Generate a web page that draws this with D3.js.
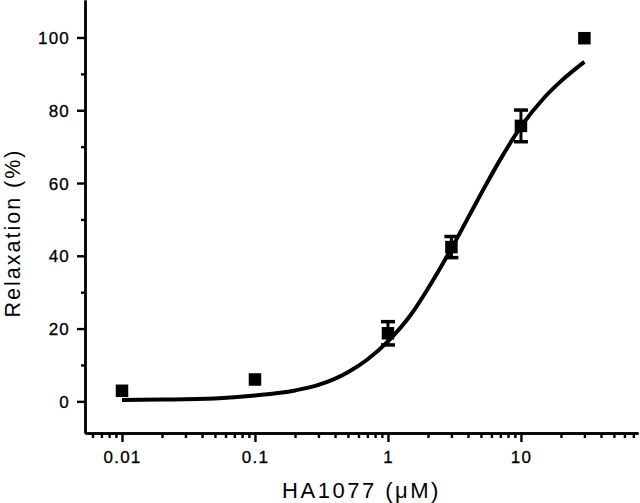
<!DOCTYPE html>
<html>
<head>
<meta charset="utf-8">
<script src="https://cdn.jsdelivr.net/npm/d3@7"></script>
<style>
  html, body { margin: 0; padding: 0; background: #ffffff; }
  svg { display: block; }
  text { font-family: "Liberation Sans", Arial, Helvetica, sans-serif; fill: #000; }
</style>
</head>
<body>
<svg id="chart" width="640" height="503"></svg>
<script>
// Measured data points
const concentrations = [0.01, 0.1, 1, 3, 10, 30];
const relaxation = [2.9, 6.0, 18.7, 42.4, 75.7, 99.8];
const errors = [0, 0, 3.2, 2.9, 4.35, 0];

// Fitted curve
const curveX = [0.01, 0.02, 0.05, 0.1, 0.2, 0.3, 0.5, 0.7, 1, 1.5, 2, 3, 5, 7, 10, 15, 20, 30];
const curveY = [0.4, 0.5, 0.8, 1.6, 3.0, 4.5, 8.0, 11.5, 16.5, 24, 31, 42, 57, 66.5, 75.5, 83.5, 88, 93.3];

// Tick definitions
const xMajorTicks = [0.01, 0.1, 1, 10];
const xMajorLabels = ["0.01", "0.1", "1", "10"];
const yMajorTicks = [0, 20, 40, 60, 80, 100];
const yMinorTicks = [10, 30, 50, 70, 90];

const xLabel = "HA1077 (\u03BCM)";
const yLabel = "Relaxation (%)";

const svg = d3.select("#chart");
const mLeft = 85, mRight = 638, mTop = 0, mBottom = 433;

const x = d3.scaleLog().domain([0.00527, 75.9]).range([mLeft, mRight]);
const y = d3.scaleLinear().domain([-8.7, 110.3]).range([mBottom, mTop]);

// minor x ticks
const xMinorTicks = [];
[0.001, 0.01, 0.1, 1, 10].forEach(d => {
  for (let k = 2; k <= 9; k++) {
    const v = d * k;
    if (v >= x.domain()[0] && v <= x.domain()[1]) xMinorTicks.push(v);
  }
});

const ink = "#000";

const gxMinor = svg.append("g").attr("transform", `translate(0,${mBottom})`)
  .call(d3.axisBottom(x).tickValues(xMinorTicks).tickSize(5).tickSizeOuter(0).tickFormat(""));
const gx = svg.append("g").attr("transform", `translate(0,${mBottom})`)
  .call(d3.axisBottom(x).tickValues(xMajorTicks).tickSize(9).tickSizeOuter(0).tickPadding(8)
    .tickFormat((d, i) => xMajorLabels[i]));

const gyMinor = svg.append("g").attr("transform", `translate(${mLeft},0)`)
  .call(d3.axisLeft(y).tickValues(yMinorTicks).tickSize(4).tickSizeOuter(0).tickFormat(""));
const gy = svg.append("g").attr("transform", `translate(${mLeft},0)`)
  .call(d3.axisLeft(y).tickValues(yMajorTicks).tickSize(8).tickSizeOuter(0).tickPadding(7)
    .tickFormat(d3.format("d")));

[gxMinor, gx, gyMinor, gy].forEach(g => {
  g.selectAll("path.domain").attr("stroke", ink).attr("stroke-width", 2.4);
  g.selectAll(".tick line").attr("stroke", ink).attr("stroke-width", 2.4);
  g.selectAll(".tick text")
    .attr("fill", ink)
    .style("font-family", "'Liberation Sans', Arial, sans-serif")
    .style("font-size", "17px")
    .style("letter-spacing", "1.2px")
    .attr("stroke", ink)
    .attr("stroke-width", 0.3);
});
gx.selectAll(".tick text").attr("dy", "0.75em");
gy.selectAll(".tick text").attr("dy", "0.36em");

svg.append("text")
  .attr("x", (mLeft + mRight) / 2)
  .attr("y", 498)
  .attr("text-anchor", "middle")
  .style("font-size", "22px")
  .style("letter-spacing", "2.5px")
  .text(xLabel);

svg.append("text")
  .attr("transform", `translate(20,233) rotate(-90)`)
  .attr("text-anchor", "middle")
  .style("font-size", "21.5px")
  .style("letter-spacing", "2px")
  .text(yLabel);

const line = d3.line()
  .x((d, i) => x(curveX[i]))
  .y(d => y(d))
  .curve(d3.curveMonotoneX);

svg.append("path")
  .datum(curveY)
  .attr("d", line)
  .attr("fill", "none")
  .attr("stroke", ink)
  .attr("stroke-width", 4)
  .attr("stroke-linecap", "butt");

const eb = svg.append("g");
concentrations.forEach((c, i) => {
  if (errors[i] <= 0) return;
  const cx = x(c);
  const y1 = y(relaxation[i] + errors[i]);
  const y2 = y(relaxation[i] - errors[i]);
  eb.append("line").attr("x1", cx).attr("x2", cx).attr("y1", y1).attr("y2", y2)
    .attr("stroke", ink).attr("stroke-width", 3);
  [y1, y2].forEach(yy => {
    eb.append("line").attr("x1", cx - 7).attr("x2", cx + 7).attr("y1", yy).attr("y2", yy)
      .attr("stroke", ink).attr("stroke-width", 3.5);
  });
});

const sz = 12.5;
svg.append("g").selectAll("rect")
  .data(relaxation)
  .join("rect")
  .attr("x", (d, i) => x(concentrations[i]) - sz / 2)
  .attr("y", d => y(d) - sz / 2)
  .attr("width", sz)
  .attr("height", sz)
  .attr("fill", ink);
</script>
</body>
</html>
